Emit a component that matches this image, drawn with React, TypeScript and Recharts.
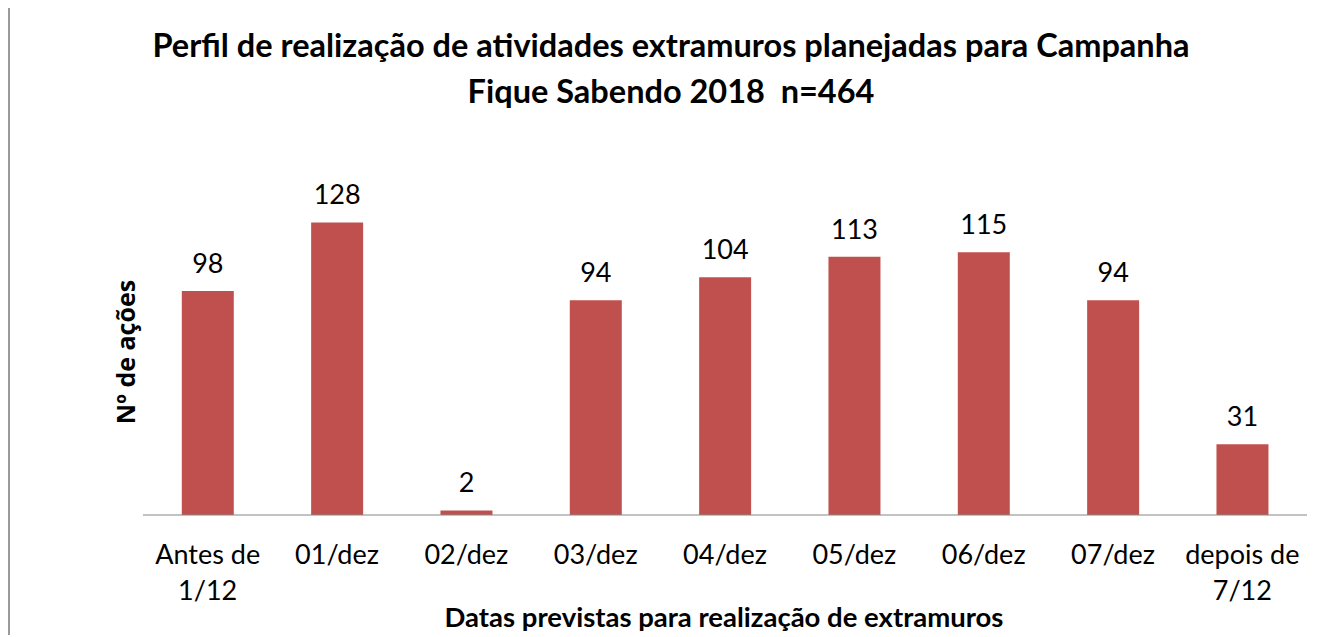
import React from "react";
import { BarChart, Bar, XAxis, YAxis, LabelList } from "recharts";

const categories = [
  "Antes de 1/12",
  "01/dez",
  "02/dez",
  "03/dez",
  "04/dez",
  "05/dez",
  "06/dez",
  "07/dez",
  "depois de 7/12",
];
const acoes = [98, 128, 2, 94, 104, 113, 115, 94, 31];
const yDomain = [0, 140];

const data = categories.map((c, i) => ({ name: c, value: acoes[i] }));

const FONT = "Lato, 'Open Sans', sans-serif";

const splitLabel = (s: string): string[] => {
  const i = s.lastIndexOf(" ");
  return i > 0 ? [s.slice(0, i), s.slice(i + 1)] : [s];
};

const Tick = (props: any) => {
  const { x, y, payload } = props;
  const lines = splitLabel(String(payload.value));
  return (
    <text
      x={x}
      y={y}
      textAnchor="middle"
      style={{ fontFamily: FONT, fontSize: 27, fill: "#000" }}
    >
      {lines.map((l, i) => (
        <tspan key={i} x={x} dy={i === 0 ? 19 : 36}>
          {l}
        </tspan>
      ))}
    </text>
  );
};

export default function App() {
  const W = 1326;
  const BW = 1329;
  const H = 630;
  return (
    <div
      style={{
        position: "relative",
        width: BW,
        height: H,
        marginTop: -3,
        fontFamily: FONT,
      }}
    >
      <svg
        width={BW}
        height={H}
        style={{ position: "absolute", left: 0, top: 0, pointerEvents: "none" }}
      >
        <line x1={0} y1={1} x2={BW} y2={1} stroke="#a8a8a8" strokeWidth={2} />
        <line x1={1} y1={0} x2={1} y2={H} stroke="#9a9a9a" strokeWidth={2} />
        <line x1={BW - 1.5} y1={0} x2={BW - 1.5} y2={H} stroke="#8a8a8a" strokeWidth={3} />
      </svg>
      <div style={{ position: "absolute", left: 0, top: 1, width: W, height: 629 }}>
        <div style={{ position: "absolute", left: 0, top: 0 }}>
          <BarChart
            width={W}
            height={640}
            data={data}
            margin={{ top: 189, right: 27, left: 135, bottom: 31 }}
            barCategoryGap="30%"
          >
            <XAxis
              dataKey="name"
              interval={0}
              tickLine={false}
              tickSize={0}
              tickMargin={30}
              height={100}
              axisLine={{ stroke: "#868686", strokeWidth: 1 }}
              tick={<Tick />}
            />
            <YAxis hide domain={yDomain} />
            <Bar dataKey="value" fill="#C0504D" isAnimationActive={false}>
              <LabelList
                dataKey="value"
                position="top"
                offset={18}
                style={{ fontFamily: FONT, fontSize: 27, fill: "#000" }}
              />
            </Bar>
          </BarChart>
        </div>
        <div
          style={{
            position: "absolute",
            left: 0,
            top: 16,
            width: W,
            textAlign: "center",
            fontWeight: 700,
            fontSize: 32.5,
            lineHeight: "46px",
            color: "#000",
            whiteSpace: "nowrap",
          }}
        >
          Perfil de realização de atividades extramuros planejadas para Campanha
          <br />
          Fique Sabendo 2018&nbsp;&nbsp;n=464
        </div>
        <div
          style={{
            position: "absolute",
            left: 117,
            top: 346,
            transform: "translate(-50%, -50%) rotate(-90deg)",
            whiteSpace: "nowrap",
            fontWeight: 700,
            fontSize: 25,
            lineHeight: "30px",
            color: "#000",
            fontFamily: "'Open Sans', sans-serif",
          }}
        >
          Nº de ações
        </div>
        <div
          style={{
            position: "absolute",
            left: 716,
            top: 611,
            transform: "translate(-50%, -50%)",
            whiteSpace: "nowrap",
            fontWeight: 700,
            fontSize: 27.5,
            lineHeight: "32px",
            color: "#000",
          }}
        >
          Datas previstas para realização de extramuros
        </div>
      </div>
    </div>
  );
}
